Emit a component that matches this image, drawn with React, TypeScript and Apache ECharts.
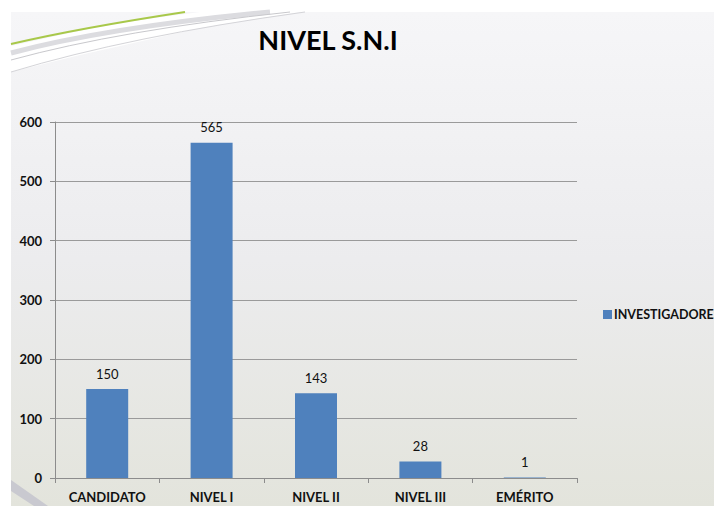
import React, { useEffect, useRef } from "react";
import * as echarts from "echarts";

const categories = ["CANDIDATO", "NIVEL I", "NIVEL II", "NIVEL III", "EMÉRITO"];
const investigadores = [150, 565, 143, 28, 1];
const seriesName = "INVESTIGADORES";
const titleText = "NIVEL S.N.I";

export default function App() {
  const ref = useRef<HTMLDivElement>(null);
  useEffect(() => {
    if (!ref.current) return;
    const chart = echarts.init(ref.current, null, { renderer: "svg" });
    const font = "Lato, 'Open Sans', sans-serif";
    chart.setOption({
      animation: false,
      backgroundColor: "transparent",
      title: {
        text: titleText,
        left: 323,
        top: 21,
        textAlign: "center",
        textStyle: { fontFamily: font, fontSize: 27, fontWeight: "bold", color: "#000" },
      },
      legend: {
        show: true,
        left: 598,
        top: 303,
        itemWidth: 9,
        itemHeight: 9,
        itemGap: 4,
        icon: "rect",
        textStyle: { fontFamily: font, fontSize: 12.5, fontWeight: "bold", color: "#111", padding: [0, 0, 0, -3] },
        data: [seriesName],
      },
      grid: { left: 55, right: 137, top: 122, bottom: 28, containLabel: false },
      xAxis: {
        type: "category",
        data: categories,
        axisLine: { lineStyle: { color: "#8c8c8c", width: 1 } },
        axisTick: { show: true, alignWithLabel: false, length: 5, lineStyle: { color: "#8c8c8c" } },
        axisLabel: { fontFamily: font, fontSize: 13, fontWeight: "bold", color: "#111", margin: 12 },
      },
      yAxis: {
        type: "value",
        min: 0,
        max: 600,
        interval: 100,
        axisLine: { show: true, lineStyle: { color: "#8c8c8c", width: 1 } },
        axisTick: { show: true, length: 5, lineStyle: { color: "#8c8c8c" } },
        axisLabel: { fontFamily: font, fontSize: 13, fontWeight: "bold", color: "#111", margin: 13 },
        splitLine: { lineStyle: { color: "#9a9a9a", width: 1 } },
      },
      series: [
        {
          name: seriesName,
          type: "bar",
          data: investigadores,
          barWidth: 42,
          itemStyle: { color: "#4f81bd" },
          label: {
            show: true,
            position: "top",
            distance: 9,
            fontFamily: font,
            fontSize: 13,
            fontWeight: "normal",
            color: "#111",
          },
        },
      ],
      graphic: [
        {
          type: "rect",
          z: -10,
          silent: true,
          shape: { x: 11, y: 12, width: 703, height: 494 },
          style: {
            fill: new echarts.graphic.LinearGradient(0, 0, 0, 1, [
              { offset: 0, color: "#f6f6f8" },
              { offset: 0.5, color: "#ececee" },
              { offset: 1, color: "#e3e4dc" },
            ]),
          },
        },
        {
          type: "polygon",
          z: -9,
          silent: true,
          shape: { points: [[11, 46], [110, 24], [200, 12], [300, 12], [200, 28], [80, 55], [11, 72]] },
          style: { fill: "#ffffff" },
        },
        {
          type: "bezierCurve",
          z: -8,
          silent: true,
          shape: { x1: 11, y1: 44, x2: 185, y2: 12, cpx1: 80, cpy1: 28 },
          style: { stroke: "#a8c84a", lineWidth: 2, fill: "none" },
        },
        {
          type: "bezierCurve",
          z: -8,
          silent: true,
          shape: { x1: 11, y1: 53, x2: 270, y2: 12, cpx1: 110, cpy1: 27 },
          style: { stroke: "#dcdce0", lineWidth: 5, fill: "none" },
        },
        {
          type: "bezierCurve",
          z: -8,
          silent: true,
          shape: { x1: 11, y1: 60, x2: 290, y2: 12, cpx1: 120, cpy1: 30 },
          style: { stroke: "#c8c8cc", lineWidth: 1, fill: "none" },
        },
        {
          type: "bezierCurve",
          z: -8,
          silent: true,
          shape: { x1: 11, y1: 72, x2: 305, y2: 12, cpx1: 130, cpy1: 36 },
          style: { stroke: "#d4d4d8", lineWidth: 1, fill: "none" },
        },
        {
          type: "polygon",
          z: -8,
          silent: true,
          shape: { points: [[11, 480], [48, 506], [34, 506], [11, 491]] },
          style: { fill: "#c9c9d0" },
        },
      ],
    });
    return () => chart.dispose();
  }, []);
  return (
    <div
      ref={ref}
      style={{ position: "absolute", left: 0, top: 0, width: 714, height: 506, background: "#ffffff" }}
    />
  );
}
